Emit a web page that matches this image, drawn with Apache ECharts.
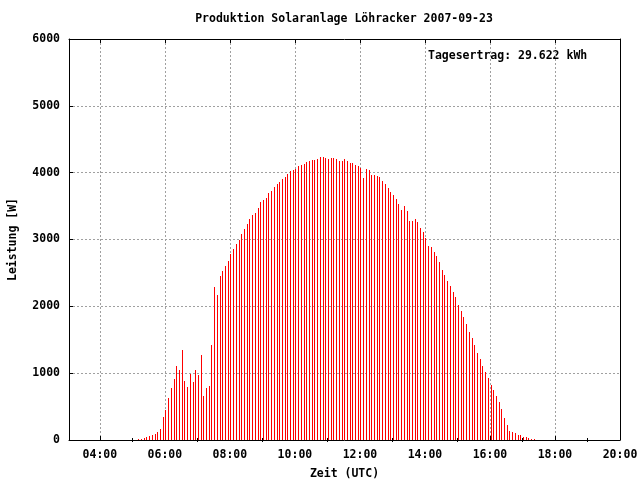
<!DOCTYPE html>
<html>
<head>
<meta charset="utf-8">
<script src="https://cdn.jsdelivr.net/npm/echarts@6/dist/echarts.min.js"></script>
<style>html,body{margin:0;padding:0;background:#fff;}#c{width:640px;height:480px;}</style>
</head>
<body>
<div id="c"></div>
<script>
// Sample times (UTC) of the impulses
const times = [
 "05:11","05:16","05:21","05:26","05:31","05:36","05:41","05:46","05:51","05:56",
 "06:01","06:06","06:11","06:16","06:21","06:26","06:31","06:36","06:41","06:46","06:51","06:56",
 "07:01","07:06","07:11","07:16","07:21","07:26","07:31","07:36","07:41","07:46","07:51","07:56",
 "08:01","08:06","08:11","08:16","08:21","08:26","08:31","08:36","08:41","08:46","08:51","08:56",
 "09:01","09:06","09:11","09:16","09:21","09:26","09:31","09:36","09:41","09:46","09:51","09:56",
 "10:01","10:06","10:11","10:16","10:21","10:26","10:31","10:36","10:41","10:46","10:51","10:56",
 "11:01","11:06","11:11","11:16","11:21","11:26","11:31","11:36","11:41","11:46","11:51","11:56",
 "12:01","12:06","12:11","12:16","12:21","12:26","12:31","12:36","12:41","12:46","12:51","12:56",
 "13:01","13:06","13:11","13:16","13:21","13:26","13:31","13:36","13:41","13:46","13:51","13:56",
 "14:01","14:06","14:11","14:16","14:21","14:26","14:31","14:36","14:41","14:46","14:51","14:56",
 "15:01","15:06","15:11","15:16","15:21","15:26","15:31","15:36","15:41","15:46","15:51","15:56",
 "16:01","16:06","16:11","16:16","16:21","16:26","16:31","16:36","16:41","16:46","16:51","16:56",
 "17:01","17:06","17:11","17:16","17:21"
];
// Power in W
const power = [
 15,15,30,45,60,75,90,120,165,
 345,450,630,780,915,1110,1050,1350,885,795,990,870,1050,975,1275,660,780,810,1425,2295,2175,2460,2535,2610,2685,2790,2865,
 2940,3000,3075,3150,3225,3300,3360,3390,3465,3555,3585,3615,3690,3720,3780,3825,3855,3900,3930,3975,4020,4035,4050,4095,4110,4125,4155,4170,4185,4185,4200,4230,4230,4215,4200,
 4215,4215,
 4200,4170,4170,4200,4170,4140,4140,4110,4095,4065,3915,4050,4035,3960,3960,3945,3930,3870,3825,3765,3705,3660,3600,3525,3435,3495,3420,3270,3270,3300,3255,3165,3105,3015,2910,2895,2820,2760,2670,2550,2475,
 2385,2310,2220,2145,2025,1935,1845,1740,1620,1530,1425,1305,1215,1110,1020,930,825,750,660,570,465,330,225,135,120,105,75,75,45,45,30,15,15
];
const majorHours = [4,6,8,10,12,14,16,18,20];
const minorHours = [5,7,9,11,13,15,17,19];
const titleText = "Produktion Solaranlage Löhracker 2007-09-23";
const yieldText = "Tagesertrag: 29.622 kWh";
const xName = "Zeit (UTC)";
const yName = "Leistung [W]";

const toHours = s => { const p = s.split(':'); return (+p[0]) + (+p[1]) / 60; };
const data = times.map((t, i) => [toHours(t), power[i]]);

const FONT = '"DejaVu Sans Mono", monospace';
const lbl = { fontFamily: FONT, fontWeight: 'bold', fontSize: 11.5, color: '#000' };
const XMIN = 3.05, XMAX = 20;
const grid = { left: 69, right: 20, top: 39, bottom: 40, containLabel: false, outerBoundsMode: 'none' };
const gridLine = { show: true, lineStyle: { color: '#a0a0a0', width: 1, type: [2, 2] } };

const chart = echarts.init(document.getElementById('c'), null, { renderer: 'canvas' });
chart.setOption({
  animation: false,
  backgroundColor: '#fff',
  grid: grid,
  xAxis: [
    { type: 'value', min: XMIN, max: XMAX, position: 'bottom',
      axisLine: { show: true, onZero: false, lineStyle: { color: '#000', width: 1 } },
      axisTick: { show: true, inside: true, length: 4, customValues: majorHours, lineStyle: { color: '#000' } },
      axisLabel: Object.assign({ customValues: majorHours, margin: 9,
        formatter: v => (v < 10 ? '0' : '') + v + ':00' }, lbl),
      splitLine: gridLine,
      name: xName, nameLocation: 'middle', nameGap: 28,
      nameTextStyle: lbl },
    { type: 'value', min: XMIN, max: XMAX, position: 'bottom',
      axisLine: { show: false },
      axisTick: { show: true, inside: true, length: 2, customValues: minorHours, lineStyle: { color: '#000' } },
      axisLabel: { show: false }, splitLine: { show: false } },
    { type: 'value', min: XMIN, max: XMAX, position: 'top',
      axisLine: { show: true, onZero: false, lineStyle: { color: '#000', width: 1 } },
      axisTick: { show: true, inside: true, length: 4, customValues: majorHours, lineStyle: { color: '#000' } },
      axisLabel: { show: false }, splitLine: { show: false } },
    { type: 'value', min: XMIN, max: XMAX, position: 'top',
      axisLine: { show: false },
      axisTick: { show: true, inside: true, length: 2, customValues: minorHours, lineStyle: { color: '#000' } },
      axisLabel: { show: false }, splitLine: { show: false } }
  ],
  yAxis: [
    { type: 'value', min: 0, max: 6000, interval: 1000, position: 'left',
      axisLine: { show: true, onZero: false, lineStyle: { color: '#000', width: 1 } },
      axisTick: { show: true, inside: true, length: 4, lineStyle: { color: '#000' } },
      axisLabel: Object.assign({ margin: 9, formatter: v => String(v) }, lbl),
      splitLine: gridLine,
      name: yName, nameLocation: 'middle', nameGap: 50, nameRotate: 90,
      nameTextStyle: lbl },
    { type: 'value', min: 0, max: 6000, interval: 1000, position: 'right',
      axisLine: { show: true, onZero: false, lineStyle: { color: '#000', width: 1 } },
      axisTick: { show: false }, axisLabel: { show: false }, splitLine: { show: false } }
  ],
  series: [{
    type: 'custom',
    xAxisIndex: 0, yAxisIndex: 0,
    data: data,
    renderItem: function (params, api) {
      const top = api.coord([api.value(0), api.value(1)]);
      const base = api.coord([api.value(0), 0]);
      const x = Math.round(top[0]);
      const y = Math.round(top[1]);
      return { type: 'rect', shape: { x: x, y: y, width: 1, height: Math.round(base[1]) - y },
               style: { fill: '#ff0000' } };
    }
  }],
  graphic: [
    { type: 'text', x: 344, y: 19, style: { text: titleText, align: 'center', verticalAlign: 'middle',
      font: 'bold 11.5px ' + FONT, fill: '#000' } },
    { type: 'text', x: 428, y: 56, style: { text: yieldText, align: 'left', verticalAlign: 'middle',
      font: 'bold 11.5px ' + FONT, fill: '#000' } }
  ]
});
</script>
</body>
</html>
